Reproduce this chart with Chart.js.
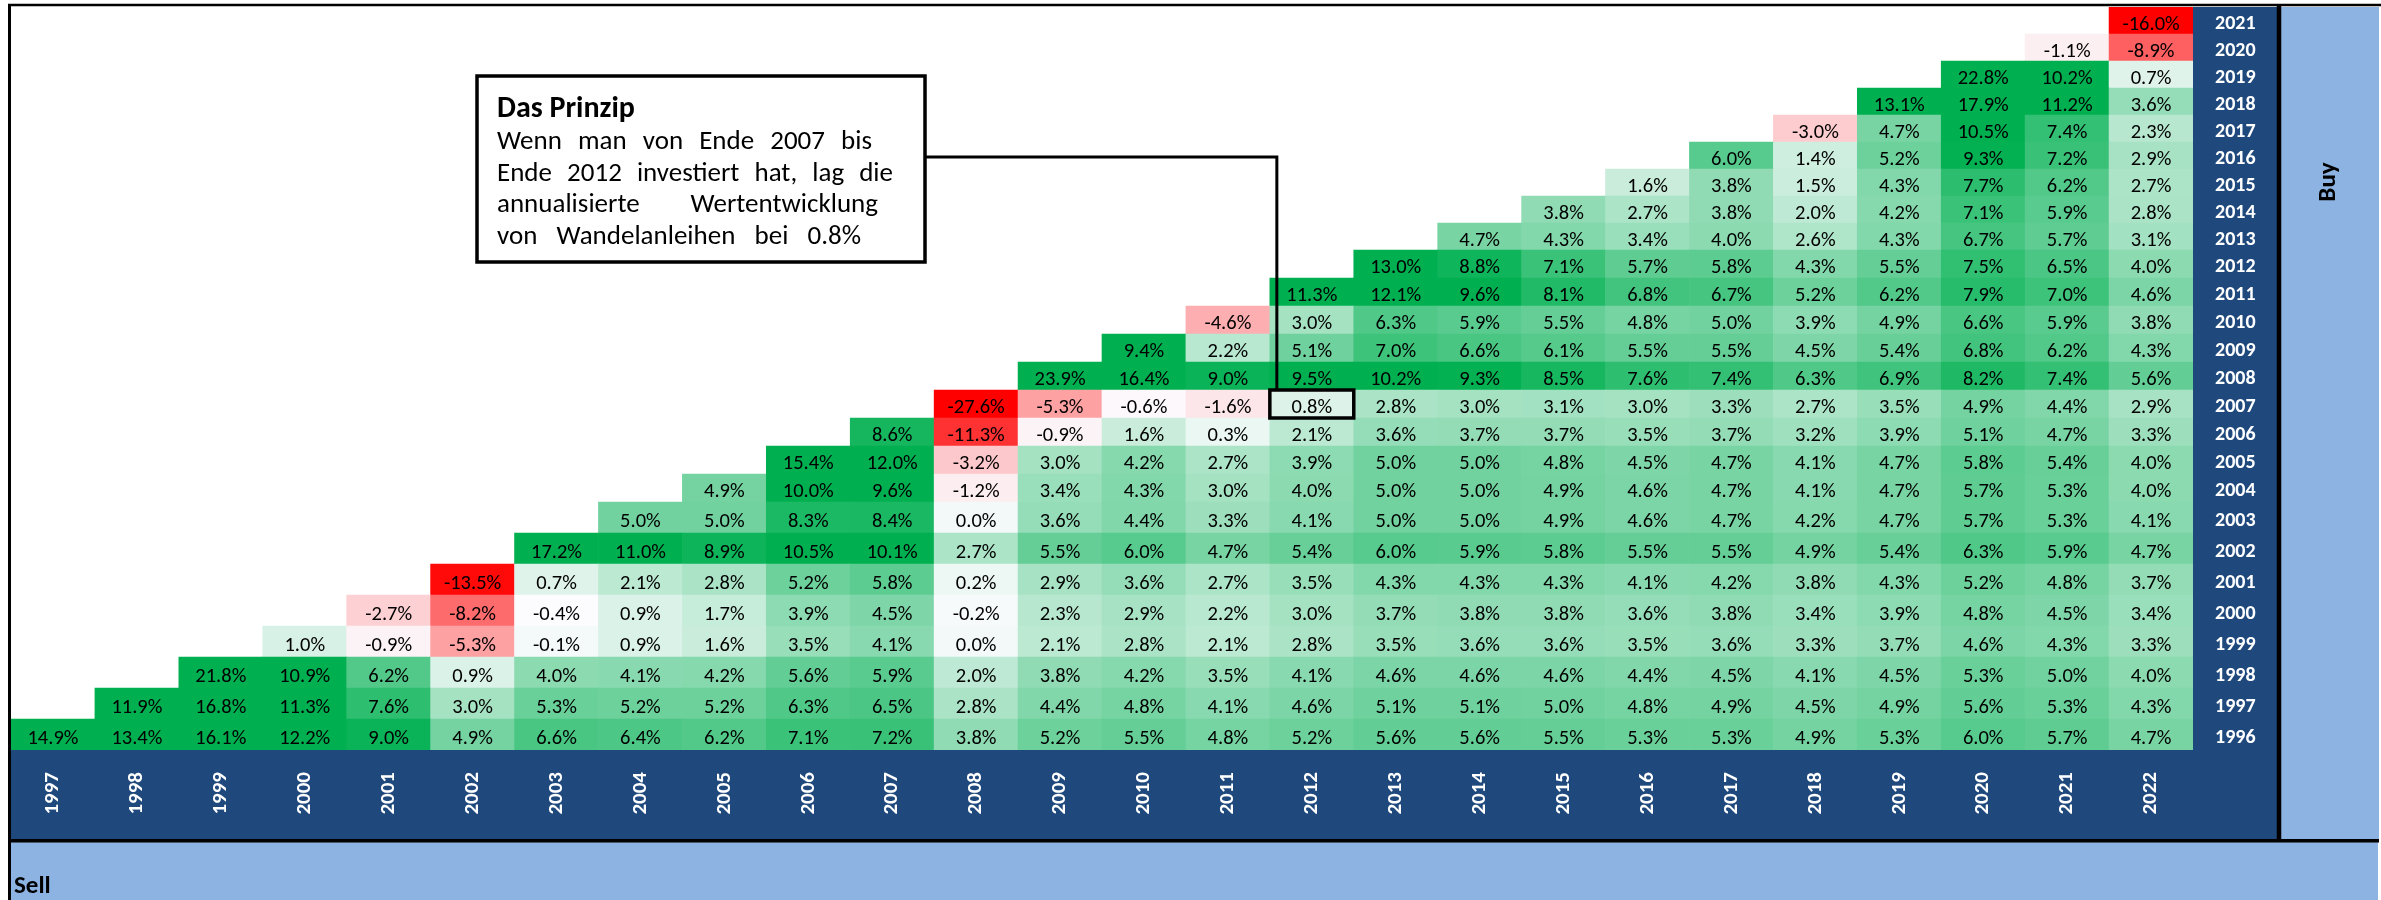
<!DOCTYPE html>
<html lang="de">
<head>
<meta charset="utf-8">
<title>Wandelanleihen - annualisierte Wertentwicklung</title>
<script src="https://cdn.jsdelivr.net/npm/chart.js@4.4.1/dist/chart.umd.min.js"></script>
<style>
  html, body { margin: 0; padding: 0; background: #fff; }
  canvas { display: block; }
</style>
</head>
<body>
<canvas id="heatChart" width="2381" height="900"></canvas>
<script>
const sellYears = ["1997", "1998", "1999", "2000", "2001", "2002", "2003", "2004", "2005", "2006", "2007", "2008", "2009",
  "2010", "2011", "2012", "2013", "2014", "2015", "2016", "2017", "2018", "2019", "2020", "2021", "2022"];
const buyYears = [1996, 1997, 1998, 1999, 2000, 2001, 2002, 2003, 2004, 2005, 2006, 2007, 2008,
  2009, 2010, 2011, 2012, 2013, 2014, 2015, 2016, 2017, 2018, 2019, 2020, 2021];

// annualised return in %, one list per buy year, sell years from buy year + 1 up to 2022
const buy1996 = [14.9, 13.4, 16.1, 12.2, 9.0, 4.9, 6.6, 6.4, 6.2, 7.1, 7.2, 3.8, 5.2, 5.5, 4.8, 5.2, 5.6, 5.6, 5.5, 5.3, 5.3, 4.9, 5.3, 6.0, 5.7, 4.7];
const buy1997 = [11.9, 16.8, 11.3, 7.6, 3.0, 5.3, 5.2, 5.2, 6.3, 6.5, 2.8, 4.4, 4.8, 4.1, 4.6, 5.1, 5.1, 5.0, 4.8, 4.9, 4.5, 4.9, 5.6, 5.3, 4.3];
const buy1998 = [21.8, 10.9, 6.2, 0.9, 4.0, 4.1, 4.2, 5.6, 5.9, 2.0, 3.8, 4.2, 3.5, 4.1, 4.6, 4.6, 4.6, 4.4, 4.5, 4.1, 4.5, 5.3, 5.0, 4.0];
const buy1999 = [1.0, -0.9, -5.3, -0.1, 0.9, 1.6, 3.5, 4.1, 0.0, 2.1, 2.8, 2.1, 2.8, 3.5, 3.6, 3.6, 3.5, 3.6, 3.3, 3.7, 4.6, 4.3, 3.3];
const buy2000 = [-2.7, -8.2, -0.4, 0.9, 1.7, 3.9, 4.5, -0.2, 2.3, 2.9, 2.2, 3.0, 3.7, 3.8, 3.8, 3.6, 3.8, 3.4, 3.9, 4.8, 4.5, 3.4];
const buy2001 = [-13.5, 0.7, 2.1, 2.8, 5.2, 5.8, 0.2, 2.9, 3.6, 2.7, 3.5, 4.3, 4.3, 4.3, 4.1, 4.2, 3.8, 4.3, 5.2, 4.8, 3.7];
const buy2002 = [17.2, 11.0, 8.9, 10.5, 10.1, 2.7, 5.5, 6.0, 4.7, 5.4, 6.0, 5.9, 5.8, 5.5, 5.5, 4.9, 5.4, 6.3, 5.9, 4.7];
const buy2003 = [5.0, 5.0, 8.3, 8.4, 0.0, 3.6, 4.4, 3.3, 4.1, 5.0, 5.0, 4.9, 4.6, 4.7, 4.2, 4.7, 5.7, 5.3, 4.1];
const buy2004 = [4.9, 10.0, 9.6, -1.2, 3.4, 4.3, 3.0, 4.0, 5.0, 5.0, 4.9, 4.6, 4.7, 4.1, 4.7, 5.7, 5.3, 4.0];
const buy2005 = [15.4, 12.0, -3.2, 3.0, 4.2, 2.7, 3.9, 5.0, 5.0, 4.8, 4.5, 4.7, 4.1, 4.7, 5.8, 5.4, 4.0];
const buy2006 = [8.6, -11.3, -0.9, 1.6, 0.3, 2.1, 3.6, 3.7, 3.7, 3.5, 3.7, 3.2, 3.9, 5.1, 4.7, 3.3];
const buy2007 = [-27.6, -5.3, -0.6, -1.6, 0.8, 2.8, 3.0, 3.1, 3.0, 3.3, 2.7, 3.5, 4.9, 4.4, 2.9];
const buy2008 = [23.9, 16.4, 9.0, 9.5, 10.2, 9.3, 8.5, 7.6, 7.4, 6.3, 6.9, 8.2, 7.4, 5.6];
const buy2009 = [9.4, 2.2, 5.1, 7.0, 6.6, 6.1, 5.5, 5.5, 4.5, 5.4, 6.8, 6.2, 4.3];
const buy2010 = [-4.6, 3.0, 6.3, 5.9, 5.5, 4.8, 5.0, 3.9, 4.9, 6.6, 5.9, 3.8];
const buy2011 = [11.3, 12.1, 9.6, 8.1, 6.8, 6.7, 5.2, 6.2, 7.9, 7.0, 4.6];
const buy2012 = [13.0, 8.8, 7.1, 5.7, 5.8, 4.3, 5.5, 7.5, 6.5, 4.0];
const buy2013 = [4.7, 4.3, 3.4, 4.0, 2.6, 4.3, 6.7, 5.7, 3.1];
const buy2014 = [3.8, 2.7, 3.8, 2.0, 4.2, 7.1, 5.9, 2.8];
const buy2015 = [1.6, 3.8, 1.5, 4.3, 7.7, 6.2, 2.7];
const buy2016 = [6.0, 1.4, 5.2, 9.3, 7.2, 2.9];
const buy2017 = [-3.0, 4.7, 10.5, 7.4, 2.3];
const buy2018 = [13.1, 17.9, 11.2, 3.6];
const buy2019 = [22.8, 10.2, 0.7];
const buy2020 = [-1.1, -8.9];
const buy2021 = [-16.0];

const rows = [buy1996, buy1997, buy1998, buy1999, buy2000, buy2001, buy2002, buy2003, buy2004,
  buy2005, buy2006, buy2007, buy2008, buy2009, buy2010, buy2011, buy2012, buy2013, buy2014,
  buy2015, buy2016, buy2017, buy2018, buy2019, buy2020, buy2021];

// the highlighted example cell and its note
const exampleBuy = 2007;
const exampleSell = "2012";
const noteTitle = "Das Prinzip";
const noteLines = [
  "Wenn man von Ende 2007 bis",
  "Ende 2012 investiert hat, lag die",
  "annualisierte Wertentwicklung",
  "von Wandelanleihen bei 0.8%"
];

// sheet row heights (bottom row first), the sheet rows are not all equally tall
const rowHeights = [31, 31, 31, 31, 31, 31, 31, 31, 28, 28, 28, 28, 28, 28, 28, 28, 28,
  27, 27, 27, 27, 27, 27, 27, 27, 27];

const darkBlue = "#1F497D";
const lightBlue = "#8DB3E2";
const sheetFont = "Carlito, Calibri, Roboto, sans-serif";

const rowStarts = [];
let sheetHeight = 0;
rowHeights.forEach(h => {
  rowStarts.push(sheetHeight);
  sheetHeight += h;
});

function mix(a, b, t) {
  return Math.round(a + (b - a) * t);
}

// red - white - green colour scale like the spreadsheet one
function cellColor(v) {
  const white = [252, 252, 255];
  const mid = -0.4;
  let target;
  let t;

  if (v >= mid) {
    target = [0, 176, 80];
    t = Math.min(1, (v - mid) / (9.4 - mid));
  } else {
    target = [255, 0, 0];
    t = Math.min(1, (mid - v) / (mid + 14));
  }

  return "rgb(" + mix(white[0], target[0], t) + "," + mix(white[1], target[1], t) + "," + mix(white[2], target[2], t) + ")";
}

const datasets = rows.map((row, i) => ({
  label: String(buyYears[i]),
  data: row.map((v, j) => ({
    x: sellYears[i + j],
    y: [rowStarts[i], rowStarts[i] + rowHeights[i]],
    v: v
  })),
  backgroundColor: ctx => cellColor(ctx.raw.v),
  borderWidth: 0,
  grouped: false,
  barPercentage: 1,
  categoryPercentage: 1
}));

const cellLabels = {
  id: "cellLabels",
  afterDatasetsDraw(chart) {
    const ctx = chart.ctx;

    ctx.save();
    ctx.font = "20.5px " + sheetFont;
    ctx.fillStyle = "#000";
    ctx.textAlign = "center";
    ctx.textBaseline = "alphabetic";

    rows.forEach((row, i) => {
      chart.getDatasetMeta(i).data.forEach((el, j) => {
        ctx.fillText(row[j].toFixed(1) + "%", el.x, (el.y + el.base) / 2 + 9);
      });
    });

    ctx.restore();
  }
};

function drawJustified(ctx, text, x, y, width) {
  const words = text.split(" ");
  const wordsWidth = words.reduce((sum, w) => sum + ctx.measureText(w).width, 0);
  const gap = (width - wordsWidth) / (words.length - 1);
  let cx = x;

  words.forEach(w => {
    ctx.fillText(w, cx, y);
    cx += ctx.measureText(w).width + gap;
  });
}

const sheetFrame = {
  id: "sheetFrame",
  beforeDraw(chart) {
    const { ctx, chartArea: area, scales: { x, y } } = chart;

    ctx.save();
    ctx.fillStyle = "#fff";
    ctx.fillRect(0, 0, chart.width, chart.height);

    ctx.fillStyle = darkBlue;
    ctx.fillRect(y.left, area.top, y.width, x.bottom - area.top);
    ctx.fillRect(area.left, x.top, y.right - area.left, x.height);

    ctx.fillStyle = lightBlue;
    ctx.fillRect(y.right, area.top, chart.width - 2 - y.right, x.bottom - area.top);
    ctx.fillRect(area.left, x.bottom, chart.width - 3 - area.left, chart.height - x.bottom);
    ctx.restore();
  },
  afterDraw(chart) {
    const { ctx, chartArea: area, scales: { x, y } } = chart;

    ctx.save();
    ctx.strokeStyle = "#000";

    // sheet borders
    ctx.lineWidth = 2.5;
    ctx.beginPath();
    ctx.moveTo(8, 5);
    ctx.lineTo(chart.width, 5);
    ctx.stroke();

    ctx.lineWidth = 3;
    ctx.beginPath();
    ctx.moveTo(area.left - 1.5, 4);
    ctx.lineTo(area.left - 1.5, chart.height);
    ctx.stroke();

    ctx.lineWidth = 4.5;
    ctx.beginPath();
    ctx.moveTo(y.right + 2, 4);
    ctx.lineTo(y.right + 2, x.bottom + 2);
    ctx.stroke();

    ctx.lineWidth = 3.5;
    ctx.beginPath();
    ctx.moveTo(area.left - 3, x.bottom + 1.75);
    ctx.lineTo(chart.width - 2, x.bottom + 1.75);
    ctx.stroke();

    // panel titles
    ctx.fillStyle = "#000";
    ctx.font = "bold 25px " + sheetFont;
    ctx.textAlign = "left";
    ctx.textBaseline = "alphabetic";
    ctx.fillText("Sell", area.left + 3, x.bottom + 54);

    ctx.save();
    ctx.translate((y.right + chart.width) / 2, 182);
    ctx.rotate(-Math.PI / 2);
    ctx.textAlign = "center";
    ctx.textBaseline = "middle";
    ctx.fillText("Buy", 0, 0);
    ctx.restore();

    // highlighted example cell
    const rowIndex = buyYears.indexOf(exampleBuy);
    const cell = chart.getDatasetMeta(rowIndex).data[sellYears.indexOf(exampleSell) - rowIndex];
    const cellLeft = cell.x - cell.width / 2;
    const cellTop = Math.min(cell.y, cell.base);

    ctx.lineWidth = 3.5;
    ctx.strokeRect(cellLeft, cellTop, cell.width, Math.abs(cell.base - cell.y));

    // note box with connector
    const box = { left: 477, top: 76, right: 925, bottom: 262 };

    ctx.lineWidth = 3;
    ctx.beginPath();
    ctx.moveTo(box.right, 157);
    ctx.lineTo(cellLeft + 7, 157);
    ctx.lineTo(cellLeft + 7, cellTop);
    ctx.stroke();

    ctx.fillStyle = "#fff";
    ctx.fillRect(box.left, box.top, box.right - box.left, box.bottom - box.top);
    ctx.lineWidth = 3.5;
    ctx.strokeRect(box.left, box.top, box.right - box.left, box.bottom - box.top);

    ctx.fillStyle = "#000";
    ctx.textAlign = "left";
    ctx.textBaseline = "alphabetic";
    ctx.font = "bold 30px " + sheetFont;
    ctx.fillText(noteTitle, box.left + 20, 117);

    ctx.font = "27px " + sheetFont;
    const lineWidths = [375, 396, 381, 364];
    noteLines.forEach((line, i) => {
      drawJustified(ctx, line, box.left + 20, 149 + i * 31.5, lineWidths[i]);
    });

    ctx.restore();
  }
};

new Chart(document.getElementById("heatChart"), {
  type: "bar",
  data: {
    labels: sellYears,
    datasets: datasets
  },
  options: {
    responsive: false,
    animation: false,
    devicePixelRatio: 1,
    layout: {
      padding: { left: 11, top: 7, right: 104, bottom: 61 }
    },
    plugins: {
      legend: { display: false },
      tooltip: { enabled: false }
    },
    scales: {
      x: {
        type: "category",
        position: "bottom",
        grid: { display: false, drawTicks: false },
        border: { display: false },
        ticks: {
          color: "#fff",
          font: { family: sheetFont, weight: "bold", size: 21 },
          minRotation: 90,
          maxRotation: 90,
          autoSkip: false,
          padding: 22
        },
        afterFit: scale => {
          scale.height = 89;
        }
      },
      y: {
        type: "linear",
        position: "right",
        min: 0,
        max: sheetHeight,
        grid: { display: false, drawTicks: false },
        border: { display: false },
        afterBuildTicks: scale => {
          scale.ticks = rowStarts.map((start, i) => ({ value: start + rowHeights[i] / 2 }));
        },
        ticks: {
          color: "#fff",
          font: { family: sheetFont, weight: "bold", size: 20 },
          autoSkip: false,
          crossAlign: "center",
          padding: 22,
          labelOffset: 3,
          callback: (value, index) => buyYears[index]
        },
        afterFit: scale => {
          scale.width = 84;
          scale.paddingTop = 0;
          scale.paddingBottom = 0;
        }
      }
    }
  },
  plugins: [sheetFrame, cellLabels]
});
</script>
</body>
</html>
